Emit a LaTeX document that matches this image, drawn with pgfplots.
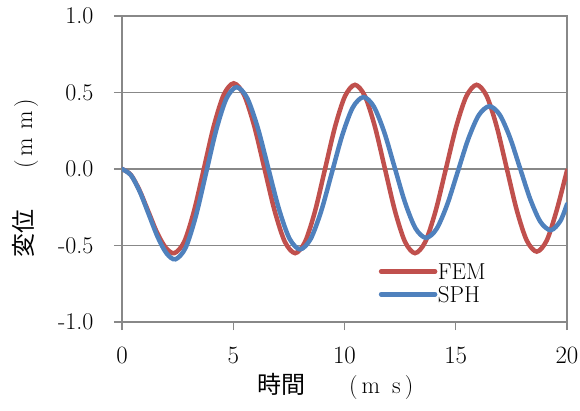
\documentclass[border=0pt]{standalone}
\usepackage{fontspec}
\usepackage{pgfplots}
\pgfplotsset{compat=1.18}
\newfontfamily\cjk{Noto Sans CJK JP}
\definecolor{femred}{HTML}{C0504D}
\definecolor{sphblue}{HTML}{4F81BD}
\definecolor{axgray}{HTML}{888888}

\begin{document}
\begin{tikzpicture}[font=\fontsize{24}{28}\selectfont]
\begin{axis}[
    scale only axis,
    width=445pt, height=306pt,
    xmin=0, xmax=20, ymin=-1, ymax=1,
    xtick={0,5,10,15,20},
    ytick={-1,-0.5,0,0.5,1},
    yticklabels={-1.0,-0.5,0.0,0.5,1.0},
    tick align=outside,
    xtick pos=left, ytick pos=left,
    major tick length=8pt,
    every tick/.style={axgray, line width=1.2pt},
    axis line style={axgray, line width=1.2pt},
    ymajorgrids,
    grid style={axgray, line width=1.2pt},
    yticklabel style={xshift=-17pt},
    xticklabel style={yshift=-14pt},
    xlabel={{\cjk 時間}\hspace{1.8em}(\,m\,\,\,s\,)},
    ylabel={{\cjk 変位}\hspace{1.7em}(\,m\,\,m\,)},
    xlabel style={at={(axis description cs:0.48,-0.21)}, anchor=center},
    ylabel style={at={(axis description cs:-0.218,0.47)}, anchor=center},
    legend style={at={(rel axis cs:0.57,0.20)}, anchor=north west,
        draw=none, fill=none, row sep=6pt,
        font=\fontsize{23}{24}\selectfont,
        nodes={inner sep=0.5pt, text depth=0pt}},
    legend cell align=left,
    legend image code/.code={\draw[#1] (0pt,0pt) -- (54pt,0pt);},
]
\coordinate (O) at (rel axis cs:0,0);

% FEM
\addplot[femred, line width=4.5pt, smooth, line cap=round] coordinates {
    (0,0) (0.392,-0.037) (0.783,-0.138) (1.175,-0.275) (1.567,-0.413) (1.958,-0.513)
    (2.35,-0.55) (2.795,-0.476) (3.24,-0.273) (3.685,0.005) (4.13,0.283) (4.575,0.486)
    (5.02,0.56) (5.48,0.486) (5.94,0.283) (6.40,0.005) (6.86,-0.273) (7.32,-0.476)
    (7.78,-0.55) (8.228,-0.476) (8.677,-0.275) (9.125,0) (9.573,0.275) (10.022,0.476)
    (10.47,0.55) (10.92,0.476) (11.37,0.275) (11.82,0) (12.27,-0.275) (12.72,-0.476)
    (13.17,-0.55) (13.632,-0.476) (14.093,-0.275) (14.555,0) (15.017,0.275) (15.478,0.476)
    (15.94,0.55) (16.39,0.477) (16.84,0.278) (17.29,0.005) (17.74,-0.268) (18.19,-0.467)
    (18.64,-0.54) (19.09,-0.467) (19.54,-0.268) (20,-0.01)
};
\addlegendentry{FEM}

% SPH
\addplot[sphblue, line width=4.5pt, smooth, line cap=round] coordinates {
    (0,0) (0.4,-0.040) (0.8,-0.148) (1.2,-0.295) (1.6,-0.443) (2.0,-0.551)
    (2.40,-0.59) (2.858,-0.515) (3.317,-0.309) (3.775,-0.028) (4.233,0.254) (4.692,0.460)
    (5.15,0.535) (5.625,0.464) (6.10,0.270) (6.575,0.005) (7.05,-0.260) (7.525,-0.454)
    (8.0,-0.525) (8.475,-0.458) (8.95,-0.276) (9.425,-0.028) (9.90,0.221) (10.375,0.403)
    (10.85,0.47) (11.318,0.408) (11.787,0.240) (12.255,0.010) (12.723,-0.220) (13.192,-0.388)
    (13.66,-0.45) (14.135,-0.392) (14.61,-0.235) (15.085,-0.020) (15.56,0.195) (16.035,0.352)
    (16.51,0.41) (16.97,0.356) (17.43,0.208) (17.89,0.005) (18.35,-0.198) (18.81,-0.346)
    (19.27,-0.40) (19.70,-0.34) (20,-0.23)
};
\addlegendentry{SPH}
\end{axis}
\pgfresetboundingbox
\path[use as bounding box] ([xshift=-122pt,yshift=-88pt]O) rectangle ([xshift=458pt,yshift=322pt]O);
\end{tikzpicture}
\end{document}
